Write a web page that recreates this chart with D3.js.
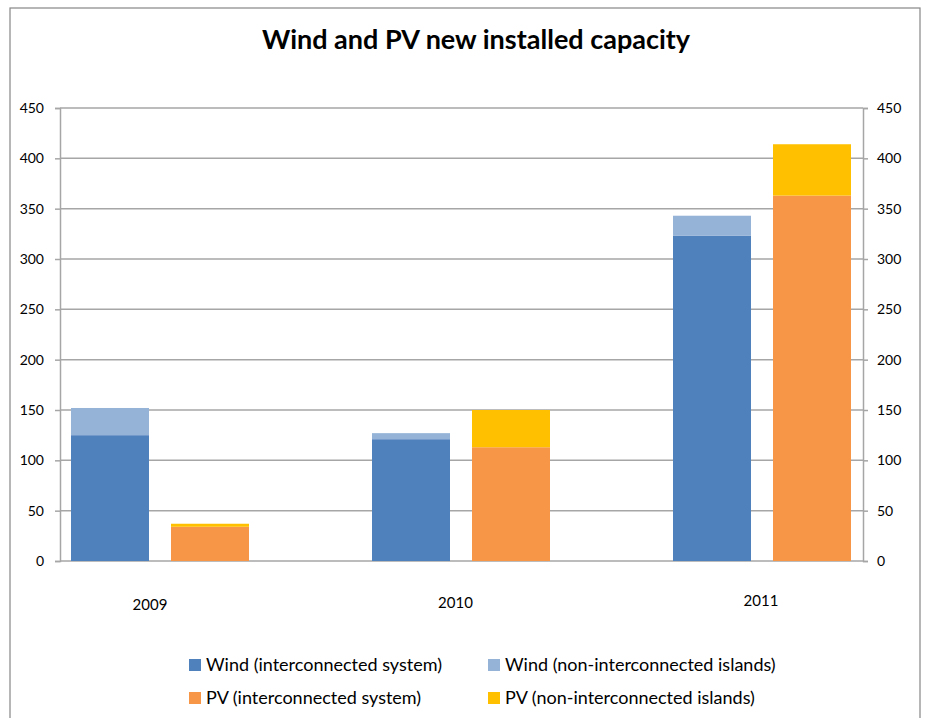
<!DOCTYPE html>
<html>
<head>
<meta charset="utf-8">
<script src="https://cdn.jsdelivr.net/npm/d3@7"></script>
<style>
  body { margin: 0; background: #fff; }
  text { font-family: Lato, "Open Sans", sans-serif; fill: #000; }
</style>
</head>
<body>
<svg id="chart" width="926" height="718"></svg>
<script>
// values (MW)
var years = ["2009", "2010", "2011"];
var windInter = [125, 121, 323];
var windIslands = [27, 6, 20];
var pvInter = [34, 113, 363];
var pvIslands = [3, 37, 51];
var yTicks = [0, 50, 100, 150, 200, 250, 300, 350, 400, 450];

var legendNames = ["Wind (interconnected system)", "Wind (non-interconnected islands)",
                   "PV (interconnected system)", "PV (non-interconnected islands)"];
var colors = ["#4F81BD", "#95B3D7", "#F79646", "#FFC000"];

var svg = d3.select("#chart");

// outer chart frame (bottom runs off the picture)
svg.append("rect")
  .attr("x", 10).attr("y", 8)
  .attr("width", 910).attr("height", 730)
  .attr("fill", "none").attr("stroke", "#868686").attr("stroke-width", 1.2);

var plot = {left: 60, right: 863, top: 108, bottom: 561};

var y = d3.scaleLinear().domain([0, 450]).range([plot.bottom, plot.top]);

// each year gets a 301px slot; wind and PV stacks sit inside it
var x = d3.scaleBand().domain(years).range([21, 21 + 3 * 301]).paddingInner(0);
var xLabel = d3.scalePoint().domain(years).range([150, 761]);
var barW = 78;

// gridlines
svg.append("g").selectAll("line").data(yTicks).enter().append("line")
  .attr("x1", plot.left).attr("x2", plot.right)
  .attr("y1", d => y(d)).attr("y2", d => y(d))
  .attr("stroke", "#A6A6A6").attr("stroke-width", 1.5);

// axes
var yAxisL = d3.axisLeft(y).tickValues(yTicks).tickSize(5).tickPadding(11);
var yAxisR = d3.axisRight(y).tickValues(yTicks).tickSize(5).tickPadding(9);

function styleAxis(g) {
  g.select(".domain").attr("stroke", "#A6A6A6").attr("stroke-width", 1.5);
  g.selectAll(".tick line").attr("stroke", "#A6A6A6").attr("stroke-width", 1.5);
  g.selectAll(".tick text").style("font-size", "14px").attr("fill", "#000");
}

svg.append("g").attr("transform", "translate(" + plot.left + ",0)").call(yAxisL).call(styleAxis);
svg.append("g").attr("transform", "translate(" + plot.right + ",0)").call(yAxisR).call(styleAxis);

// stacked bars
var rows = years.map(function (yr, i) {
  return {year: yr, wInter: windInter[i], wIsl: windIslands[i], pInter: pvInter[i], pIsl: pvIslands[i]};
});
var windStack = d3.stack().keys(["wInter", "wIsl"])(rows);
var pvStack = d3.stack().keys(["pInter", "pIsl"])(rows);

function drawStack(stack, offset, colorIdx) {
  svg.append("g").selectAll("g").data(stack).enter().append("g")
    .attr("fill", (d, i) => colors[colorIdx + i])
    .selectAll("rect").data(d => d).enter().append("rect")
    .attr("x", d => x(d.data.year) + offset)
    .attr("width", barW)
    .attr("y", d => y(d[1]))
    .attr("height", d => y(d[0]) - y(d[1]));
}
drawStack(windStack, 50, 0);
drawStack(pvStack, 150, 2);

// year labels (they sit slightly higher going right in the original)
svg.append("g").selectAll("text").data(years).enter().append("text")
  .attr("x", d => xLabel(d))
  .attr("y", (d, i) => 610 - i * 2)
  .attr("text-anchor", "middle")
  .style("font-size", "15px")
  .text(d => d);

// title
svg.append("text")
  .attr("x", 476).attr("y", 49)
  .attr("text-anchor", "middle")
  .style("font-size", "27px").style("font-weight", "bold")
  .text("Wind and PV new installed capacity");

// legend, 2 x 2
var legend = svg.append("g").selectAll("g").data(legendNames).enter().append("g")
  .attr("transform", (d, i) => "translate(" + (i % 2 ? 488 : 189) + "," + (i < 2 ? 659 : 692) + ")");
legend.append("rect")
  .attr("width", 12).attr("height", 12)
  .attr("fill", (d, i) => colors[i]);
legend.append("text")
  .attr("x", 17).attr("y", 12)
  .style("font-size", "18px")
  .text(d => d);
</script>
</body>
</html>
